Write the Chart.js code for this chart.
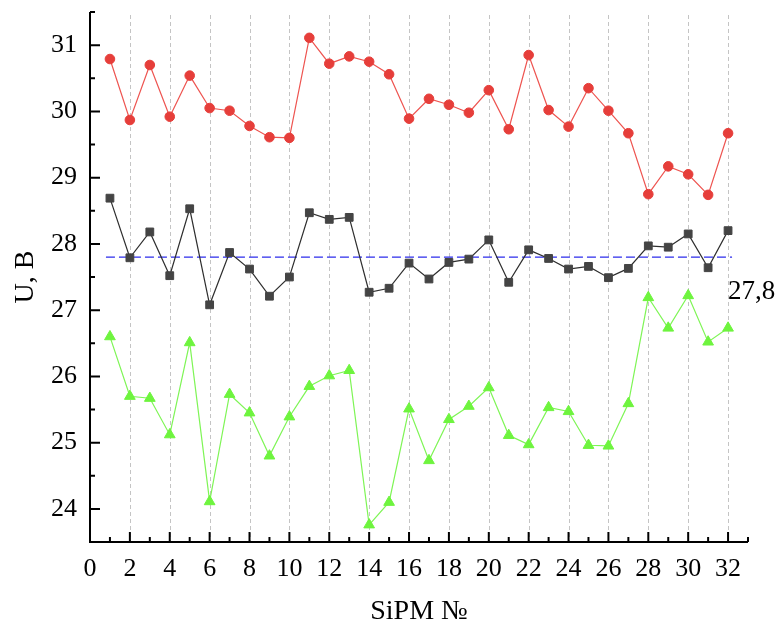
<!DOCTYPE html>
<html>
<head>
<meta charset="utf-8">
<script src="https://cdn.jsdelivr.net/npm/chart.js@4.4.0/dist/chart.umd.min.js"></script>
<style>
  html, body { margin: 0; padding: 0; background: #fff; }
</style>
</head>
<body>
<canvas id="sipmChart" width="782" height="626"></canvas>
<script>
// SiPM numbers
const sipmNumbers = [1, 2, 3, 4, 5, 6, 7, 8, 9, 10, 11, 12, 13, 14, 15, 16,
                     17, 18, 19, 20, 21, 22, 23, 24, 25, 26, 27, 28, 29, 30, 31, 32];

// upper series (red circles)
const voltageRed = [30.79, 29.87, 30.70, 29.92, 30.54, 30.05, 30.01, 29.78, 29.61, 29.60,
                    31.11, 30.72, 30.83, 30.75, 30.56, 29.89, 30.19, 30.10, 29.98, 30.32,
                    29.73, 30.85, 30.02, 29.77, 30.35, 30.01, 29.67, 28.75, 29.17, 29.05,
                    28.74, 29.67];

// middle series (black squares)
const voltageBlack = [28.69, 27.79, 28.18, 27.52, 28.53, 27.08, 27.87, 27.62, 27.21, 27.50,
                      28.47, 28.37, 28.40, 27.27, 27.33, 27.71, 27.47, 27.72, 27.77, 28.06,
                      27.42, 27.91, 27.78, 27.62, 27.66, 27.49, 27.63, 27.97, 27.95, 28.15,
                      27.64, 28.20];

// lower series (green triangles)
const voltageGreen = [26.60, 25.70, 25.67, 25.12, 26.51, 24.11, 25.73, 25.45, 24.80, 25.39,
                      25.85, 26.01, 26.09, 23.76, 24.10, 25.51, 24.73, 25.35, 25.55, 25.83,
                      25.11, 24.97, 25.53, 25.47, 24.96, 24.95, 25.59, 27.19, 26.73, 27.22,
                      26.52, 26.73];

// reference level
const refVoltage = 27.8;
const refLineX = [0.8, 32.2];
const refLabel = '27,8';

// axis ticks
const xTickLabels = [0, 2, 4, 6, 8, 10, 12, 14, 16, 18, 20, 22, 24, 26, 28, 30, 32];
const yTickLabels = [24, 25, 26, 27, 28, 29, 30, 31];
const xRange = [0, 33];
const yRange = [23.5, 31.5];

const serif = "'Liberation Serif', 'Times New Roman', serif";

function toPoints(values) {
    return sipmNumbers.map((n, i) => ({ x: n, y: values[i] }));
}

// axes, inward ticks, dashed verticals and the 27,8 label
const framePlugin = {
    id: 'frame',
    beforeDatasetsDraw(chart) {
        const { ctx, chartArea, scales } = chart;
        ctx.save();
        ctx.strokeStyle = '#c4c4c4';
        ctx.lineWidth = 1;
        ctx.setLineDash([4, 3]);
        xTickLabels.forEach(v => {
            if (v === xRange[0]) return;
            const px = Math.round(scales.x.getPixelForValue(v)) + 0.5;
            ctx.beginPath();
            ctx.moveTo(px, chartArea.top + 3);
            ctx.lineTo(px, chartArea.bottom);
            ctx.stroke();
        });
        ctx.restore();
    },
    afterDraw(chart) {
        const { ctx, chartArea, scales } = chart;
        const { left, right, top, bottom } = chartArea;
        ctx.save();
        ctx.strokeStyle = '#000';
        ctx.lineWidth = 2;
        ctx.setLineDash([]);

        ctx.beginPath();
        ctx.moveTo(left, top);
        ctx.lineTo(left, bottom);
        ctx.lineTo(right, bottom);
        ctx.stroke();

        // x ticks: majors at labels, minors one unit after each
        ctx.beginPath();
        xTickLabels.forEach(v => {
            const px = scales.x.getPixelForValue(v);
            ctx.moveTo(px, bottom);
            ctx.lineTo(px, bottom - 10);
            const m = scales.x.getPixelForValue(v + 1);
            ctx.moveTo(m, bottom);
            ctx.lineTo(m, bottom - 5);
        });
        // y ticks: majors at labels, minors half a unit above and below
        yTickLabels.forEach(v => {
            const py = scales.y.getPixelForValue(v);
            ctx.moveTo(left, py);
            ctx.lineTo(left + 10, py);
        });
        [yRange[0]].concat(yTickLabels).forEach(v => {
            const py = scales.y.getPixelForValue(v + 0.5);
            ctx.moveTo(left, py);
            ctx.lineTo(left + 5, py);
        });
        ctx.stroke();

        // reference value label
        ctx.fillStyle = '#000';
        ctx.font = '27px ' + serif;
        ctx.textAlign = 'left';
        ctx.textBaseline = 'alphabetic';
        ctx.fillText(refLabel, scales.x.getPixelForValue(refLineX[1]) - 4,
                     scales.y.getPixelForValue(refVoltage) + 42);
        ctx.restore();
    }
};

new Chart(document.getElementById('sipmChart'), {
    type: 'line',
    data: {
        datasets: [
            {
                label: 'red',
                data: toPoints(voltageRed),
                borderColor: '#ee5450',
                backgroundColor: '#e63e3a',
                pointBorderColor: '#e63e3a',
                borderWidth: 1.2,
                pointStyle: 'circle',
                pointRadius: 4.8,
                pointBorderWidth: 1
            },
            {
                label: 'black',
                data: toPoints(voltageBlack),
                borderColor: '#2e2e2e',
                backgroundColor: '#444444',
                pointBorderColor: '#444444',
                borderWidth: 1.2,
                pointStyle: 'rect',
                pointRadius: 5.5,
                pointBorderWidth: 1
            },
            {
                label: 'green',
                data: toPoints(voltageGreen),
                borderColor: '#7ef555',
                backgroundColor: '#6ef43e',
                pointBorderColor: '#6ef43e',
                borderWidth: 1.2,
                pointStyle: 'triangle',
                pointRadius: 6.2,
                pointBorderWidth: 1
            },
            {
                label: 'ref',
                data: refLineX.map(x => ({ x: x, y: refVoltage })),
                borderColor: '#2d2deb',
                borderWidth: 1.3,
                borderDash: [9, 4],
                pointRadius: 0
            }
        ]
    },
    options: {
        responsive: false,
        animation: false,
        layout: { padding: { top: 12, right: 34, left: 0, bottom: 0 } },
        plugins: {
            legend: { display: false },
            tooltip: { enabled: false }
        },
        scales: {
            x: {
                type: 'linear',
                min: xRange[0],
                max: xRange[1],
                afterBuildTicks: s => { s.ticks = xTickLabels.map(v => ({ value: v })); },
                afterFit: s => { s.height = 84; s.paddingLeft = 0; s.paddingRight = 0; },
                grid: { display: false, drawTicks: false },
                border: { display: false },
                ticks: {
                    autoSkip: false,
                    maxRotation: 0,
                    padding: 12,
                    color: '#000',
                    font: { family: serif, size: 26 }
                },
                title: {
                    display: true,
                    text: 'SiPM №',
                    color: '#000',
                    font: { family: serif, size: 28, lineHeight: 1 },
                    padding: { top: 0, bottom: 0 }
                }
            },
            y: {
                type: 'linear',
                min: yRange[0],
                max: yRange[1],
                afterBuildTicks: s => { s.ticks = yTickLabels.map(v => ({ value: v })); },
                afterFit: s => { s.width = 90; s.paddingTop = 0; s.paddingBottom = 0; },
                grid: { display: false, drawTicks: false },
                border: { display: false },
                ticks: {
                    padding: 13,
                    color: '#000',
                    font: { family: serif, size: 26 }
                },
                title: {
                    display: true,
                    text: 'U, B',
                    color: '#000',
                    font: { family: serif, size: 28, lineHeight: 1 },
                    padding: { top: 12, bottom: 0 }
                }
            }
        }
    },
    plugins: [framePlugin]
});
</script>
</body>
</html>
